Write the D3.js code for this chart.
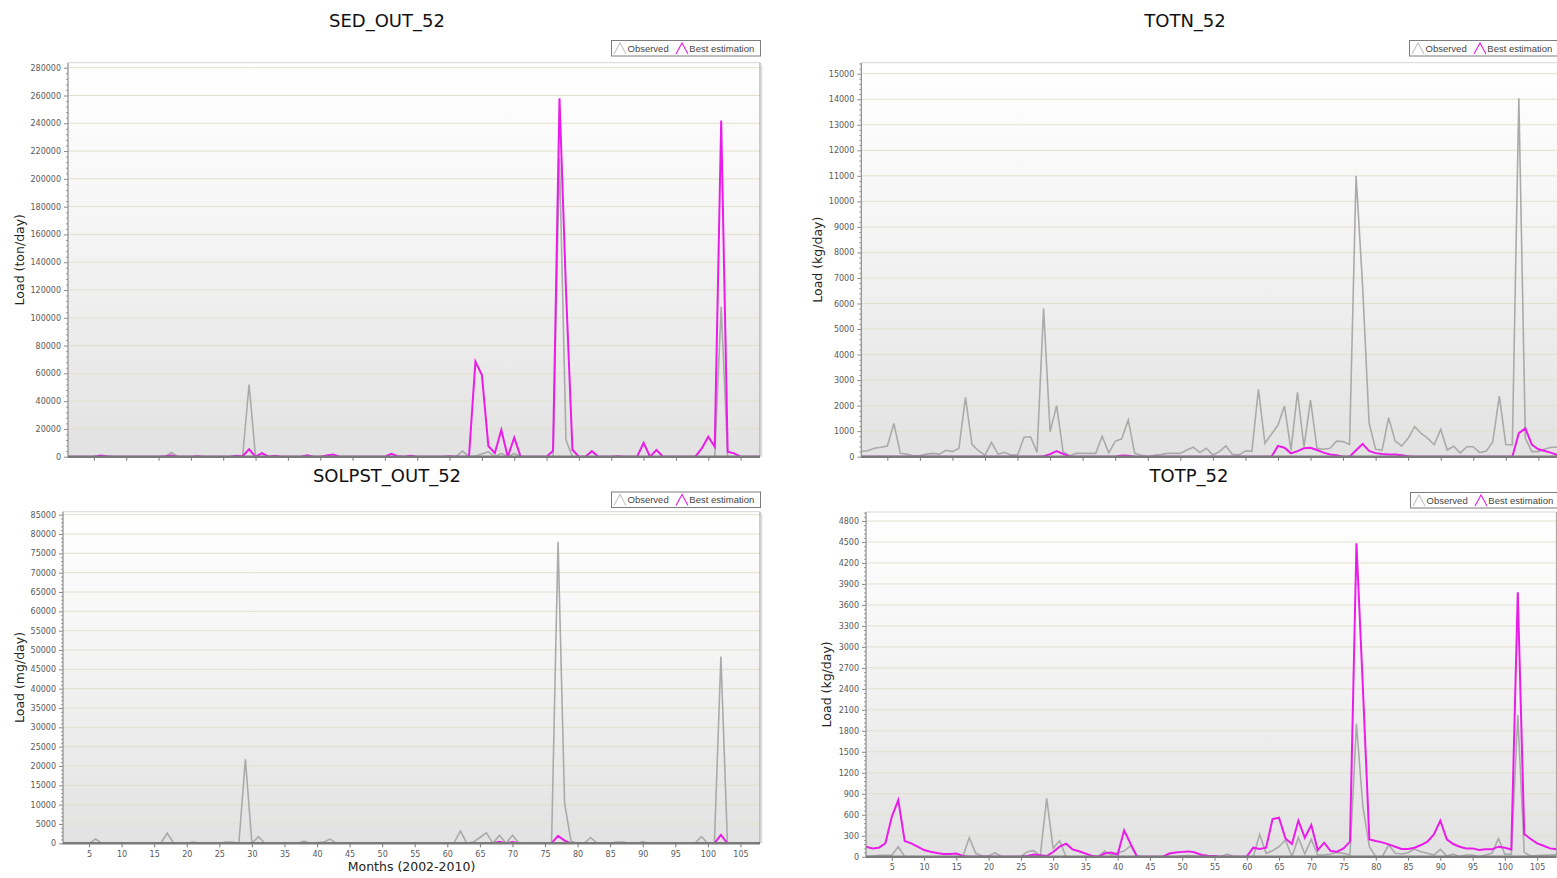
<!DOCTYPE html>
<html><head><meta charset="utf-8">
<script src="https://cdn.jsdelivr.net/npm/d3@7"></script>
<style>body{margin:0;background:#fff;overflow:hidden}svg{display:block}</style>
</head><body>
<svg id="c" width="1557" height="878"></svg>
<script>
// ---- data ----
const months = [1,2,3,4,5,6,7,8,9,10,11,12,13,14,15,16,17,18,19,20,21,22,23,24,25,26,27,28,29,30,31,32,33,34,35,36,37,38,39,40,41,42,43,44,45,46,47,48,49,50,51,52,53,54,55,56,57,58,59,60,61,62,63,64,65,66,67,68,69,70,71,72,73,74,75,76,77,78,79,80,81,82,83,84,85,86,87,88,89,90,91,92,93,94,95,96,97,98,99,100,101,102,103,104,105,106,107,108];
const xTicks = [5,10,15,20,25,30,35,40,45,50,55,60,65,70,75,80,85,90,95,100,105];
const seriesNames = ["Observed", "Best estimation"];

const sedObs = [0,0,0,0,0,500,0,0,0,0, 0,0,0,0,0,0,3000,0,0,0, 0,0,0,0,0,0,0,0,52000,0, 0,0,0,0,0,0,0,0,0,0, 0,0,0,0,0,0,0,0,0,0, 0,0,0,0,0,0,0,0,0,0, 0,4000,0,500,2000,3500,0,2400,0,2400, 0,0,0,0,0,0,215000,12000,0,0, 0,0,0,0,0,0,0,0,0,0, 0,0,0,0,0,0,0,0,0,0, 0,108000,0,0,0,0,0,0];
const sedEst = [0,0,0,0,0,800,300,0,0,0, 0,0,0,0,0,300,800,0,0,0, 400,0,0,0,0,0,600,300,5300,0, 2600,0,600,0,0,0,0,1000,0,0, 800,1500,0,0,0,0,0,0,0,0, 2000,300,0,600,0,0,0,0,0,300, 0,0,0,68400,58800,7700,2600,19200,0,13700, 0,0,0,0,0,4300,258000,120000,5000,0, 0,4000,0,0,0,300,0,0,0,10000, 0,4800,0,0,0,0,0,0,6000,14400, 7200,242000,3600,2400,0,0,0,0];

const totnObs = [220,235,330,370,420,1300,130,100,40,40, 100,130,100,250,200,330,2320,485,235,60, 560,100,170,60,60,760,780,170,5810,980, 2000,190,40,130,130,130,130,800,150,600, 700,1440,130,60,0,60,80,130,130,130, 260,370,160,330,70,200,420,90,70,220, 220,2640,525,880,1240,1985,260,2520,390,2220, 330,290,330,610,590,480,11000,6700,1310,290, 260,1530,610,420,720,1175,910,720,470,1070, 260,410,140,390,390,160,220,590,2375,480, 460,14035,720,200,200,300,370,370];
const totnEst = [0,0,0,0,0,0,0,0,0,0, 0,0,0,0,0,0,0,0,0,0, 0,0,0,0,0,0,0,0,20,100, 220,110,10,0,0,0,0,0,0,0, 50,40,0,0,0,0,0,0,0,0, 0,0,0,0,0,0,0,0,0,0, 0,0,0,0,420,350,130,220,330,350, 260,160,90,60,0,0,250,500,230,140, 110,90,90,60,20,0,0,0,0,0, 0,0,0,0,0,0,0,0,0,0, 0,920,1110,470,290,220,150,60];

const solObs = [0,0,0,0,0,1100,0,0,0,0, 0,0,0,0,0,0,2600,0,0,0, 300,0,0,0,0,300,300,0,21700,0, 1700,0,0,0,0,0,0,600,0,200, 300,1100,0,0,0,0,0,0,0,0, 0,0,0,0,0,0,0,0,0,0, 0,3200,0,300,1500,2700,0,2100,0,2100, 0,0,0,0,0,0,78000,10300,500,0, 0,1500,0,0,0,300,300,0,0,400, 0,0,0,0,0,0,0,0,1700,0, 0,48300,0,0,0,0,0,0];
const solEst = [0,0,0,0,0,0,0,0,0,0, 0,0,0,0,0,0,0,0,0,0, 0,0,0,0,0,0,0,0,0,0, 0,0,0,0,0,0,0,0,0,0, 0,0,0,0,0,0,0,0,0,0, 0,0,0,0,0,0,0,0,0,0, 0,0,0,100,0,0,0,400,0,300, 0,0,0,0,0,0,1900,700,0,0, 0,0,0,0,0,0,0,0,0,0, 0,0,0,0,0,0,0,0,0,0, 0,2200,0,0,0,0,0,0];

const totpObs = [0,10,20,20,20,143,0,0,0,0, 0,0,0,0,0,0,272,48,10,10, 57,0,0,0,0,72,86,10,834,119, 229,0,0,0,0,0,0,81,24,57, 81,157,10,0,0,0,0,0,0,10, 15,10,0,0,0,0,38,0,0,0, 0,320,48,86,143,238,0,272,38,248, 24,24,38,62,48,24,1900,715,143,0, 0,167,48,38,57,110,72,48,24,105, 10,38,0,24,24,0,24,48,258,33, 33,2026,62,10,15,20,25,30];
const totpEst = [143,119,129,191,572,810,224,190,143,95, 72,52,38,40,45,10,0,0,0,0, 0,0,0,0,0,10,30,20,10,67, 143,186,105,77,45,12,0,45,60,30, 378,186,0,0,0,0,0,45,60,69, 76,60,24,14,10,0,0,0,0,0, 129,110,129,539,558,262,181,515,272,453, 95,200,81,72,119,215,4482,2410,248,224, 205,176,143,110,110,129,167,215,320,515, 248,181,143,119,119,95,105,105,143,129, 105,3780,324,253,191,157,119,105];

const sedTicks = [0,20000,40000,60000,80000,100000,120000,140000,160000,180000,200000,220000,240000,260000,280000];
const totnTicks = [0,1000,2000,3000,4000,5000,6000,7000,8000,9000,10000,11000,12000,13000,14000,15000];
const solTicks = [0,5000,10000,15000,20000,25000,30000,35000,40000,45000,50000,55000,60000,65000,70000,75000,80000,85000];
const totpTicks = [0,300,600,900,1200,1500,1800,2100,2400,2700,3000,3300,3600,3900,4200,4500,4800];

// ---- layout ----
const panels = [
  {title:"SED_OUT_52", tx:387, ty:27, ylab:"Load (ton/day)", lx:19, x0:68, x1:760, y0:62.7, y1:456.7, ymax:283600, ticks:sedTicks, obs:sedObs, est:sedEst, legX:611, legY:40, xlabels:false},
  {title:"TOTN_52", tx:1185, ty:27, ylab:"Load (kg/day)", lx:817, x0:861.3, x1:1557.9, y0:62.7, y1:456.7, ymax:15431, ticks:totnTicks, obs:totnObs, est:totnEst, legX:1409, legY:40, xlabels:false},
  {title:"SOLPST_OUT_52", tx:387, ty:482, ylab:"Load (mg/day)", lx:19, x0:63, x1:760, y0:511.7, y1:843.3, ymax:85776, ticks:solTicks, obs:solObs, est:solEst, legX:611, legY:491.5, xlabels:true, xlab:"Months (2002-2010)"},
  {title:"TOTP_52", tx:1189, ty:482, ylab:"Load (kg/day)", lx:826, x0:866, x1:1556.5, y0:512, y1:856.7, ymax:4929, ticks:totpTicks, obs:totpObs, est:totpEst, legX:1410, legY:492, xlabels:true}
];
const colObs = "#aaaaaa", colEst = "#ea1cea";
const fontMain = "'DejaVu Sans', Verdana, sans-serif";
const fontLeg = "'Liberation Sans', Arial, sans-serif";

const svg = d3.select("#c");
const defs = svg.append("defs");
const grad = defs.append("linearGradient").attr("id","bg").attr("x1",0).attr("y1",0).attr("x2",0).attr("y2",1);
grad.append("stop").attr("offset","0%").attr("stop-color","#ffffff");
grad.append("stop").attr("offset","40%").attr("stop-color","#f5f5f5");
grad.append("stop").attr("offset","100%").attr("stop-color","#e2e2e2");

panels.forEach((p, pi) => {
  const g = svg.append("g");
  const x = d3.scaleLinear().domain([1,108]).range([p.x0, p.x1]);
  const y = d3.scaleLinear().domain([0,p.ymax]).range([p.y1, p.y0]);

  defs.append("clipPath").attr("id","clip"+pi).append("rect")
    .attr("x",p.x0).attr("y",p.y0-2).attr("width",p.x1-p.x0).attr("height",p.y1-p.y0+2);

  // background
  g.append("rect").attr("x",p.x0).attr("y",p.y0).attr("width",p.x1-p.x0).attr("height",p.y1-p.y0).attr("fill","url(#bg)");
  // gridlines
  g.selectAll(".grid").data(p.ticks.filter(t=>t>0)).enter().append("line")
    .attr("x1",p.x0).attr("x2",p.x1).attr("y1",d=>y(d)).attr("y2",d=>y(d))
    .attr("stroke","#e4dfcc").attr("stroke-width",1);
  // border top/right
  g.append("line").attr("x1",p.x0).attr("x2",p.x1).attr("y1",p.y0).attr("y2",p.y0).attr("stroke","#d6d6d6");
  g.append("line").attr("x1",p.x1).attr("x2",p.x1).attr("y1",p.y0).attr("y2",p.y1).attr("stroke","#a8a8a8").attr("stroke-width",1.2);
  g.append("line").attr("x1",p.x1+1.5).attr("x2",p.x1+1.5).attr("y1",p.y0+2).attr("y2",p.y1).attr("stroke","#dcdcdc").attr("stroke-width",1.5);

  // series
  const line = d3.line().x((d,i)=>x(months[i])).y(d=>y(d));
  const sg = g.append("g").attr("clip-path",`url(#clip${pi})`);
  sg.append("path").datum(p.obs).attr("d",line).attr("fill","none").attr("stroke",colObs).attr("stroke-width",1.6).attr("stroke-linejoin","miter");
  sg.append("path").datum(p.est).attr("d",line).attr("fill","none").attr("stroke",colEst).attr("stroke-width",2).attr("stroke-linejoin","miter");

  // y axis (major + minor)
  const step = p.ticks[1]-p.ticks[0];
  const minor = [];
  p.ticks.forEach(t=>{ for(let k=1;k<5;k++){ const v=t+step*k/5; if(v<p.ymax) minor.push(v);} });
  const ya = g.append("g").attr("transform",`translate(${p.x0},0)`)
    .call(d3.axisLeft(y).tickValues(p.ticks).tickSize(4).tickPadding(3).tickFormat(d3.format("d")));
  ya.select(".domain").remove();
  ya.selectAll(".tick line").attr("stroke","#8a8a8a");
  ya.selectAll(".tick text").attr("fill","#5a5a5a").style("font-family",fontMain).style("font-size","8px");
  const ym = g.append("g").attr("transform",`translate(${p.x0},0)`)
    .call(d3.axisLeft(y).tickValues(minor).tickSize(2).tickFormat(""));
  ym.select(".domain").remove();
  ym.selectAll(".tick line").attr("stroke","#9a9a9a");
  g.append("line").attr("x1",p.x0).attr("x2",p.x0).attr("y1",p.y0).attr("y2",p.y1+1).attr("stroke","#8c8c8c").attr("stroke-width",1.2);

  // x axis (drawn over the series so zero values sit under the baseline)
  const xa = g.append("g").attr("transform",`translate(0,${p.y1})`)
    .call(d3.axisBottom(x).tickValues(xTicks).tickSize(4).tickPadding(4).tickFormat(p.xlabels ? d3.format("d") : ""));
  xa.select(".domain").remove();
  xa.selectAll(".tick line").attr("stroke","#777");
  xa.selectAll(".tick text").attr("fill","#5a5a5a").style("font-family",fontMain).style("font-size","8px");
  g.append("line").attr("x1",p.x0).attr("x2",p.x1).attr("y1",p.y1).attr("y2",p.y1).attr("stroke","#7a7a7a").attr("stroke-width",2.4);

  // title
  g.append("text").attr("x",p.tx).attr("y",p.ty).attr("text-anchor","middle")
    .style("font-family",fontMain).style("font-size","18px").attr("fill","#111").text(p.title);
  // y label
  g.append("text").attr("transform",`translate(${p.lx},${(p.y0+p.y1)/2}) rotate(-90)`).attr("text-anchor","middle").attr("dominant-baseline","central")
    .style("font-family",fontMain).style("font-size","12.5px").attr("fill","#222").text(p.ylab);
  // x label
  if (p.xlab) {
    g.append("text").attr("x",(p.x0+p.x1)/2).attr("y",870.5).attr("text-anchor","middle")
      .style("font-family",fontMain).style("font-size","12.5px").attr("fill","#222").text(p.xlab);
  }
  // legend
  const lg = g.append("g").attr("transform",`translate(${p.legX},${p.legY})`);
  lg.append("rect").attr("x",0.5).attr("y",0.5).attr("width",149).attr("height",15.5).attr("fill","#fff").attr("stroke","#7d7d7d");
  const items = [{name:seriesNames[0], c:"#c4c4c4", ix:3, tx:16.5},{name:seriesNames[1], c:colEst, ix:65, tx:78.3}];
  items.forEach(it=>{
    lg.append("path").attr("d",`M${it.ix},14 L${it.ix+6},3 L${it.ix+12},14`).attr("fill","none").attr("stroke",it.c).attr("stroke-width",1.1);
    lg.append("text").attr("x",it.tx).attr("y",11.5).style("font-family",fontLeg).style("font-size","9.5px").attr("fill","#444").text(it.name);
  });
});
</script>
</body></html>
